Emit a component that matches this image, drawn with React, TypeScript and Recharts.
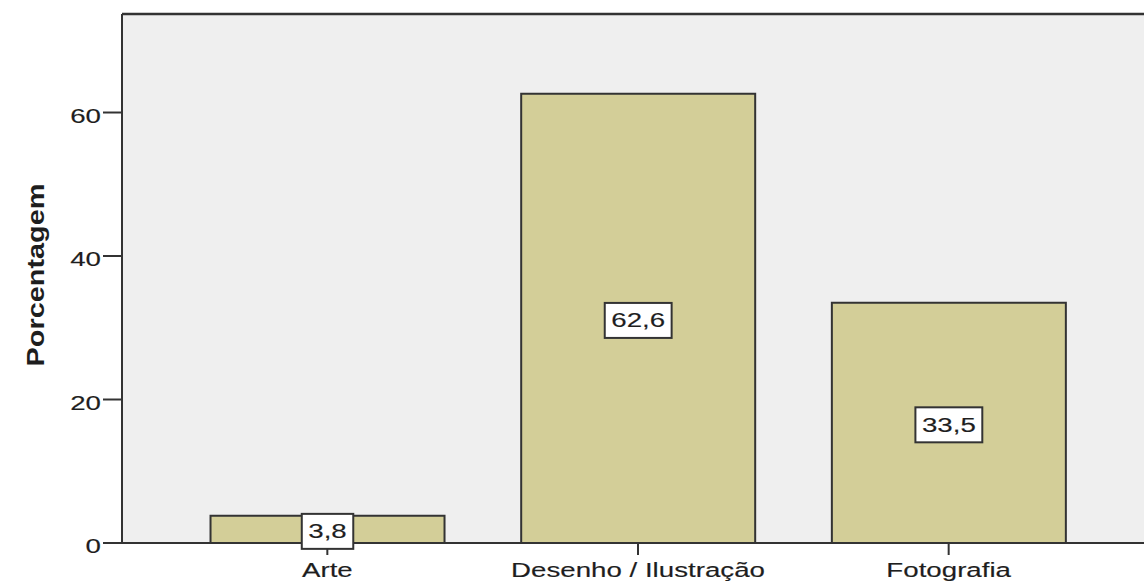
import { BarChart, Bar, XAxis, YAxis, CartesianGrid, LabelList, ReferenceLine } from 'recharts';

const categories = ['Arte', 'Desenho / Ilustração', 'Fotografia'];
const percentages = [3.8, 62.6, 33.5];
const yTicks = [0, 20, 40, 60];
const yMax = 73.73;

const data = categories.map((name, i) => ({ name, pct: percentages[i] }));

const FONT = '"Liberation Sans", Arial, sans-serif';
const INK = '#1e1e1e';
const STRETCH = 1.42; // the source image is widened horizontally

const fmt = (v: number) => v.toFixed(1).replace('.', ',');

// rough Arial advance widths at 19.5px, for sizing the label boxes
const textWidth = (s: string) =>
  s.split('').reduce((w, c) => w + (c === ',' ? 0.278 : 0.556), 0) * 19.5 * STRETCH;

const XTick = (props: any) => {
  const { x, payload } = props;
  return (
    <g transform={`translate(${x},577) scale(${STRETCH},1)`}>
      <text x={0} y={0} textAnchor="middle" fontFamily={FONT} fontSize={19.5} fill={INK} stroke={INK} strokeWidth={0.15}>
        {payload.value}
      </text>
    </g>
  );
};

const YTick = (props: any) => {
  const { x, y, payload } = props;
  return (
    <g transform={`translate(${x},${y + 10}) scale(${STRETCH},1)`}>
      <text x={0} y={0} textAnchor="end" fontFamily={FONT} fontSize={19.5} fill={INK} stroke={INK} strokeWidth={0.15}>
        {payload.value}
      </text>
    </g>
  );
};

const ValueBox = (props: any) => {
  const { x, y, width, height, value } = props;
  const label = fmt(Number(value));
  const cx = x + width / 2;
  const cy = y + height / 2 + 2;
  const w = textWidth(label) + 13;
  return (
    <g>
      <rect x={cx - w / 2} y={cy - 17.5} width={w} height={35} fill="#fff" stroke="#333" strokeWidth={2} />
      <g transform={`translate(${cx},${cy + 7}) scale(${STRETCH},1)`}>
        <text x={0} y={0} textAnchor="middle" fontFamily={FONT} fontSize={19.5} fill={INK} stroke={INK} strokeWidth={0.15}>
          {label}
        </text>
      </g>
    </g>
  );
};

const YTitle = () => (
  <text
    x={0}
    y={0}
    transform="translate(44,275) rotate(-90)"
    textAnchor="middle"
    fontFamily={FONT}
    fontWeight="bold"
    fontSize={24}
    textLength={183}
    lengthAdjust="spacingAndGlyphs"
    fill={INK}
  >
    Porcentagem
  </text>
);

export default function App() {
  return (
    <div style={{ position: 'fixed', left: 0, top: 0, width: 1144, height: 582, overflow: 'hidden', background: '#fff' }}>
      <style>{'html, body { margin: 0; overflow: hidden; }'}</style>
      <BarChart
        width={1170}
        height={582}
        data={data}
        margin={{ top: 14, right: 16, left: 0, bottom: 0 }}
        barCategoryGap="12.4%"
      >
        <CartesianGrid fill="#efefef" stroke="none" horizontal={false} vertical={false} />
        <XAxis
          dataKey="name"
          height={39}
          padding={{ left: 50, right: 50 }}
          tickSize={12}
          tick={<XTick />}
          axisLine={{ stroke: '#333', strokeWidth: 2 }}
          tickLine={{ stroke: '#333', strokeWidth: 2 }}
        />
        <YAxis
          width={122}
          domain={[0, yMax]}
          ticks={yTicks}
          tickSize={19}
          tick={<YTick />}
          axisLine={{ stroke: '#333', strokeWidth: 2 }}
          tickLine={{ stroke: '#333', strokeWidth: 2 }}
          label={<YTitle />}
        />
        <ReferenceLine y={yMax} stroke="#333" strokeWidth={2.5} />
        <Bar dataKey="pct" fill="#d3ce98" stroke="#333" strokeWidth={2} isAnimationActive={false}>
          <LabelList dataKey="pct" content={<ValueBox />} />
        </Bar>
      </BarChart>
    </div>
  );
}
